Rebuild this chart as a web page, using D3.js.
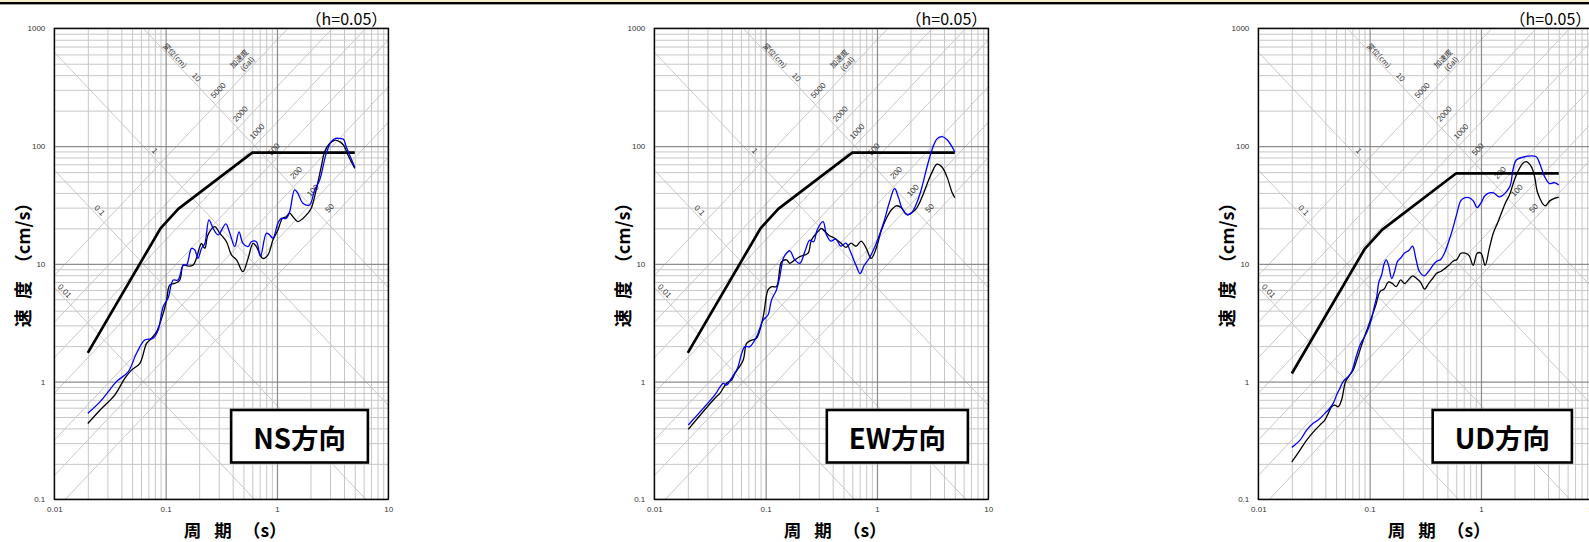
<!DOCTYPE html>
<html><head><meta charset="utf-8">
<script src="https://cdn.jsdelivr.net/npm/d3@7"></script>
<style>body{margin:0;background:#fff;overflow:hidden}svg{display:block}</style>
</head><body>
<svg id="c" width="1589" height="542"></svg>
<script>
// ---------------- data ----------------
const panelNames = ["NS方向", "EW方向", "UD方向"];
const dampingLabel = "（h=0.05）";
const xTickValues = [0.01, 0.1, 1, 10];
const xTickLabels = ["0.01", "0.1", "1", "10"];
const yTickValues = [0.1, 1, 10, 100, 1000];
const yTickLabels = ["0.1", "1", "10", "100", "1000"];
const dispLineValues = [0.01, 0.1, 1, 10];          // displacement (cm)
const dispLineLabels = ["0.01", "0.1", "1", "10"];
const accLineValues = [50, 100, 200, 500, 1000, 2000, 5000]; // acceleration (Gal)
const accLineLabels = ["50", "100", "200", "500", "1000", "2000", "5000"];

// design spectra (period s, velocity cm/s)
const designH = [[0.02, 1.75], [0.09, 20], [0.13, 29.3], [0.6, 88], [5, 88]];
const designV = [[0.02, 1.17], [0.09, 13.3], [0.13, 19.5], [0.6, 58.7], [5, 58.7]];

const nsBlue = [[0.020,0.537],[0.0258,0.675],[0.035,0.966],[0.0375,1.03],[0.0461,1.21],[0.0548,1.74],[0.065,2.25],[0.0773,2.33],[0.0857,2.74],[0.0951,4.33],[0.105,5.09],[0.117,7.28],[0.129,7.28],[0.144,9.77],[0.154,9.77],[0.171,13.5],[0.183,13.1],[0.195,11.1],[0.210,13.5],[0.225,14.9],[0.245,23.6],[0.267,20.0],[0.296,17.6],[0.347,21.8],[0.377,18.2],[0.418,14.0],[0.456,18.7],[0.495,14.9],[0.550,14.0],[0.589,15.4],[0.653,15.4],[0.710,11.5],[0.804,18.2],[0.859,17.6],[0.920,16.5],[1.02,22.1],[1.09,24.3],[1.21,24.3],[1.30,27.7],[1.44,42.4],[1.54,39.7],[1.71,32.7],[1.96,31.6],[2.18,42.4],[2.42,51.5],[2.77,86.7],[3.08,109],[3.37,116],[3.65,116],[3.96,114],[4.19,98.6],[4.49,83.9],[5.0,66]];
const nsBlack = [[0.020,0.44],[0.0258,0.573],[0.035,0.77],[0.0431,1.07],[0.0494,1.25],[0.0587,1.43],[0.0675,2.11],[0.0748,2.33],[0.0828,2.65],[0.0951,3.79],[0.102,4.93],[0.109,6.61],[0.121,6.82],[0.134,7.28],[0.144,9.77],[0.159,9.57],[0.177,9.77],[0.203,14.0],[0.210,14.9],[0.225,13.5],[0.240,17.6],[0.276,20.7],[0.306,18.2],[0.352,15.4],[0.390,11.9],[0.433,10.8],[0.495,8.57],[0.550,11.1],[0.610,14.9],[0.653,14.0],[0.748,11.1],[0.830,11.9],[0.920,15.9],[1.02,19.4],[1.12,24.3],[1.21,25.1],[1.30,26.9],[1.39,25.1],[1.54,22.8],[1.71,24.3],[1.90,26.9],[2.03,29.6],[2.25,42.4],[2.50,66.8],[2.68,89.5],[2.97,105],[3.30,112],[3.65,109],[3.96,102],[4.34,83.9],[4.65,73.6],[5.0,64.7]];

const ewBlue = [[0.0202,0.428],[0.035,0.77],[0.0416,0.966],[0.0446,0.933],[0.0494,1.07],[0.0548,1.25],[0.0566,1.34],[0.065,1.98],[0.0721,1.98],[0.0828,2.40],[0.0951,3.33],[0.105,3.67],[0.113,4.93],[0.125,6.0],[0.134,7.76],[0.144,11.1],[0.154,12.3],[0.165,12.9],[0.183,10.8],[0.203,10.1],[0.225,12.7],[0.249,15.9],[0.270,15.4],[0.290,19.4],[0.328,22.8],[0.353,17.5],[0.385,15.6],[0.427,16.2],[0.474,14.1],[0.526,15.0],[0.585,12.3],[0.649,9.68],[0.705,8.26],[0.767,9.68],[0.851,11.1],[0.946,13.6],[1.05,17.5],[1.16,23.1],[1.29,33.0],[1.44,43.6],[1.56,36.5],[1.70,28.8],[1.89,26.1],[2.05,27.1],[2.28,33.0],[2.53,44.5],[2.81,66.1],[3.12,92.7],[3.46,115],[3.85,120],[4.27,113],[4.73,98.4],[5.0,89.1]];
const ewBlack = [[0.0202,0.393],[0.035,0.721],[0.0388,0.794],[0.0446,0.966],[0.0494,1.03],[0.053,1.17],[0.0628,1.52],[0.0675,2.11],[0.0748,2.25],[0.0828,2.33],[0.0951,3.56],[0.105,6.0],[0.113,6.40],[0.125,6.40],[0.139,10.4],[0.154,10.8],[0.165,10.1],[0.183,10.8],[0.203,11.5],[0.225,11.9],[0.241,12.3],[0.258,15.9],[0.286,18.2],[0.317,20.0],[0.325,19.7],[0.369,17.5],[0.418,16.5],[0.474,15.0],[0.526,13.8],[0.585,15.0],[0.649,14.1],[0.721,15.6],[0.80,13.6],[0.887,11.1],[0.986,13.6],[1.09,19.0],[1.22,24.5],[1.35,28.8],[1.50,31.1],[1.66,29.9],[1.85,26.1],[2.05,27.1],[2.28,29.9],[2.53,36.5],[2.81,47.2],[3.12,59.8],[3.46,70.1],[3.85,66.1],[4.27,54.2],[4.73,40.3],[5.0,36.5]];

const udBlue = [[0.020,0.276],[0.0237,0.318],[0.0272,0.387],[0.0311,0.442],[0.0345,0.471],[0.0396,0.537],[0.0425,0.573],[0.0471,0.653],[0.0505,0.769],[0.0541,0.877],[0.0578,1.0],[0.0641,1.10],[0.0689,1.21],[0.076,1.65],[0.083,2.1],[0.090,2.4],[0.097,2.8],[0.104,3.4],[0.110,4.3],[0.116,5.3],[0.121,7.0],[0.128,8.0],[0.135,10.0],[0.141,10.8],[0.148,9.7],[0.158,7.5],[0.167,8.5],[0.178,10.5],[0.190,11.2],[0.205,12.3],[0.225,13.0],[0.243,14.1],[0.260,11.1],[0.280,8.6],[0.310,7.9],[0.338,8.6],[0.370,9.7],[0.400,10.5],[0.435,10.9],[0.470,12.3],[0.515,15.6],[0.560,20.1],[0.610,27.1],[0.660,34.4],[0.720,36.5],[0.780,36.5],[0.850,34.4],[0.925,30.0],[1.0,33.0],[1.09,38.0],[1.19,40.0],[1.30,40.0],[1.47,37.0],[1.81,45.0],[1.94,63.0],[2.08,76.0],[2.64,82.0],[3.14,81.0],[3.37,71.0],[3.73,55.0],[4.13,48.0],[4.58,49.0],[5.0,46.7]];
const udBlack = [[0.020,0.208],[0.0237,0.262],[0.0272,0.318],[0.0323,0.387],[0.0371,0.442],[0.0396,0.471],[0.0425,0.537],[0.0455,0.611],[0.0488,0.631],[0.0522,0.611],[0.056,0.697],[0.0588,0.877],[0.0608,1.0],[0.0664,1.14],[0.0711,1.25],[0.078,1.6],[0.087,2.2],[0.0966,2.9],[0.105,3.6],[0.114,4.5],[0.124,5.8],[0.135,6.1],[0.147,7.0],[0.160,6.8],[0.173,6.4],[0.190,7.3],[0.205,6.8],[0.223,7.3],[0.243,7.9],[0.264,7.5],[0.286,7.0],[0.312,6.1],[0.339,6.8],[0.368,7.5],[0.400,8.3],[0.435,8.6],[0.473,9.1],[0.515,9.7],[0.560,10.5],[0.608,10.9],[0.660,12.3],[0.720,12.3],[0.780,11.8],[0.851,9.7],[0.925,12.3],[1.0,12.3],[1.09,9.7],[1.19,13.6],[1.29,18.2],[1.41,22.2],[1.53,27.1],[1.66,33.0],[1.81,38.7],[1.96,49.1],[2.13,59.8],[2.38,71.3],[2.55,73.6],[2.83,66.8],[3.03,55.0],[3.24,39.7],[3.76,31.1],[4.17,34.4],[4.83,36.5],[5.0,36.8]];

const panels = [
  {name: panelNames[0], design: designH, black: nsBlack, blue: nsBlue},
  {name: panelNames[1], design: designH, black: ewBlack, blue: ewBlue},
  {name: panelNames[2], design: designV, black: udBlack, blue: udBlue}
];

// ---------------- layout ----------------
const panelLefts = [54.3, 654.3, 1258.3];
const PW = 334, TOP = 28.3, BOT = 499.3;
const CJK = "'Noto Sans CJK JP','Noto Sans CJK SC',sans-serif";
const LAT = "'Liberation Sans',Arial,sans-serif";
const TWO_PI = 2 * Math.PI;

const svg = d3.select('#c');
svg.append('rect').attr('x', 0).attr('y', 0).attr('width', 1589).attr('height', 2).attr('fill', '#f3eec4');
svg.append('rect').attr('x', 0).attr('y', 2).attr('width', 1589).attr('height', 2.4).attr('fill', '#000');

const minorVals = (lo, hi) => { const r = []; for (let e = lo; e < hi; e++) for (let k = 2; k <= 9; k++) r.push(+(k * Math.pow(10, e)).toPrecision(3)); return r; };

panels.forEach((p, i) => {
  const L = panelLefts[i];
  const x = d3.scaleLog().domain([0.01, 10]).range([L, L + PW]);
  const y = d3.scaleLog().domain([0.1, 1000]).range([BOT, TOP]);
  const ang = Math.atan((y(1) - y(10)) / (x(10) - x(1))) * 180 / Math.PI;
  const g = svg.append('g');
  const cid = 'clip' + i;
  g.append('clipPath').attr('id', cid).append('rect').attr('x', L).attr('y', TOP).attr('width', PW).attr('height', BOT - TOP);

  // grid via axes
  const gridStyle = (sel, col, w) => { sel.select('.domain').remove(); sel.selectAll('line').attr('stroke', col).attr('stroke-width', w); sel.selectAll('text').remove(); };
  g.append('g').attr('transform', `translate(0,${BOT})`)
    .call(d3.axisBottom(x).tickValues(minorVals(-2, 1)).tickSize(-(BOT - TOP)).tickFormat(''))
    .call(s => gridStyle(s, '#c6c6c6', 1));
  g.append('g').attr('transform', `translate(${L},0)`)
    .call(d3.axisLeft(y).tickValues(minorVals(-1, 3)).tickSize(-PW).tickFormat(''))
    .call(s => gridStyle(s, '#c6c6c6', 1));

  // tripartite diagonal lines
  const diag = g.append('g').attr('clip-path', `url(#${cid})`);
  const Tends = [0.001, 100];
  dispLineValues.forEach(D => {
    diag.append('line').attr('x1', x(Tends[0])).attr('y1', y(TWO_PI * D / Tends[0]))
      .attr('x2', x(Tends[1])).attr('y2', y(TWO_PI * D / Tends[1]))
      .attr('stroke', '#c8c8c8').attr('stroke-width', 1);
  });
  accLineValues.forEach(A => {
    diag.append('line').attr('x1', x(Tends[0])).attr('y1', y(A * Tends[0] / TWO_PI))
      .attr('x2', x(Tends[1])).attr('y2', y(A * Tends[1] / TWO_PI))
      .attr('stroke', '#c8c8c8').attr('stroke-width', 1);
  });

  // decade grid (darker)
  g.append('g').attr('transform', `translate(0,${BOT})`)
    .call(d3.axisBottom(x).tickValues(xTickValues).tickSize(-(BOT - TOP)).tickFormat(''))
    .call(s => gridStyle(s, '#8c8c8c', 1.2));
  g.append('g').attr('transform', `translate(${L},0)`)
    .call(d3.axisLeft(y).tickValues(yTickValues).tickSize(-PW).tickFormat(''))
    .call(s => gridStyle(s, '#8c8c8c', 1.2));

  // diagonal labels
  const pt = (A, D) => { const V = Math.sqrt(A * D); return [x(TWO_PI * V / A), y(V)]; };
  const dispAnchorsA = [2975, 7000, 7180, 12750];
  dispLineValues.forEach((D, k) => {
    const [px, py] = pt(dispAnchorsA[k], D * 1.15);
    g.append('text').attr('transform', `translate(${px},${py}) rotate(${ang})`)
      .attr('text-anchor', 'middle').attr('dominant-baseline', 'central')
      .attr('font-family', LAT).attr('font-size', 8).attr('fill', '#333').text(dispLineLabels[k]);
  });
  accLineValues.forEach((A, k) => {
    const [px, py] = pt(A * 1.25, 14);
    g.append('text').attr('transform', `translate(${px},${py}) rotate(${-ang})`)
      .attr('text-anchor', 'middle').attr('dominant-baseline', 'central')
      .attr('font-family', LAT).attr('font-size', 8).attr('fill', '#333').text(accLineLabels[k]);
  });
  {
    const [px, py] = pt(30400, 11.6);
    g.append('text').attr('transform', `translate(${px},${py}) rotate(${ang})`)
      .attr('text-anchor', 'middle').attr('dominant-baseline', 'central')
      .attr('font-family', CJK).attr('font-size', 7.5).attr('fill', '#333').text('変位(cm)');
    const [qx, qy] = pt(7741, 40);
    const t = g.append('g').attr('transform', `translate(${qx},${qy}) rotate(${-ang})`);
    t.append('text').attr('text-anchor', 'middle').attr('dominant-baseline', 'central')
      .attr('font-family', CJK).attr('font-size', 7.5).attr('fill', '#333').text('加速度');
    t.append('text').attr('x', 2).attr('y', 9.5).attr('text-anchor', 'middle').attr('dominant-baseline', 'central')
      .attr('font-family', CJK).attr('font-size', 7.5).attr('fill', '#333').text('(Gal)');
  }

  // plot frame
  g.append('rect').attr('x', L).attr('y', TOP).attr('width', PW).attr('height', BOT - TOP)
    .attr('fill', 'none').attr('stroke', '#000').attr('stroke-width', 1.3);

  // tick labels via axes
  g.append('g').attr('transform', `translate(0,${BOT})`)
    .call(d3.axisBottom(x).tickValues(xTickValues).tickSize(0).tickPadding(7).tickFormat((d, k) => xTickLabels[k]))
    .call(s => { s.select('.domain').remove(); s.selectAll('text').attr('font-family', LAT).attr('font-size', 8).attr('fill', '#333'); });
  g.append('g').attr('transform', `translate(${L},0)`)
    .call(d3.axisLeft(y).tickValues(yTickValues).tickSize(0).tickPadding(9).tickFormat((d, k) => yTickLabels[k]))
    .call(s => { s.select('.domain').remove(); s.selectAll('text').attr('font-family', LAT).attr('font-size', 8).attr('fill', '#333'); });

  // series
  const line = d3.line().x(d => x(d[0])).y(d => y(d[1]));
  const cline = d3.line().x(d => x(d[0])).y(d => y(d[1])).curve(d3.curveCatmullRom.alpha(0.5));
  const sg = g.append('g').attr('clip-path', `url(#${cid})`);
  sg.append('path').datum(p.design).attr('d', line).attr('fill', 'none').attr('stroke', '#000').attr('stroke-width', 2.7).attr('stroke-linejoin', 'round');
  sg.append('path').datum(p.black).attr('d', cline).attr('fill', 'none').attr('stroke', '#000').attr('stroke-width', 1.3);
  sg.append('path').datum(p.blue).attr('d', cline).attr('fill', 'none').attr('stroke', '#0000ff').attr('stroke-width', 1.3);

  // direction label box
  const bt = g.append('text').attr('font-family', CJK).attr('font-weight', 'bold').attr('font-size', 27.5)
    .attr('text-anchor', 'middle').attr('dominant-baseline', 'central').text(p.name);
  const tw = bt.node().getComputedTextLength();
  const bw = tw + 44, bx = L + 313.6 - bw;
  g.insert('rect', () => bt.node()).attr('x', bx).attr('y', 410).attr('width', bw).attr('height', 52.5)
    .attr('fill', '#fff').attr('stroke', '#000').attr('stroke-width', 2.6);
  bt.attr('x', bx + bw / 2).attr('y', 436.5);

  // damping text
  g.append('text').attr('x', L + PW - 1).attr('y', 25).attr('text-anchor', 'end')
    .attr('font-family', CJK).attr('font-size', 16).attr('fill', '#000').text(dampingLabel);

  // axis titles
  const yt = g.append('g').attr('transform', `translate(${L - 32.5},0) rotate(-90)`);
  [['速', 318.3], ['度', 290], ['（cm/s）', 233]].forEach(([s, cy]) => {
    yt.append('text').attr('x', -cy).attr('y', 0).attr('text-anchor', 'middle').attr('dominant-baseline', 'central')
      .attr('font-family', CJK).attr('font-weight', 'bold').attr('font-size', 18).text(s);
  });
  [['周', 138.2], ['期', 168.7], ['（s）', 210.5]].forEach(([s, dx]) => {
    g.append('text').attr('x', L + dx).attr('y', 529.5).attr('text-anchor', 'middle').attr('dominant-baseline', 'central')
      .attr('font-family', CJK).attr('font-weight', 'bold').attr('font-size', 17.5).text(s);
  });
});
</script>
</body></html>
